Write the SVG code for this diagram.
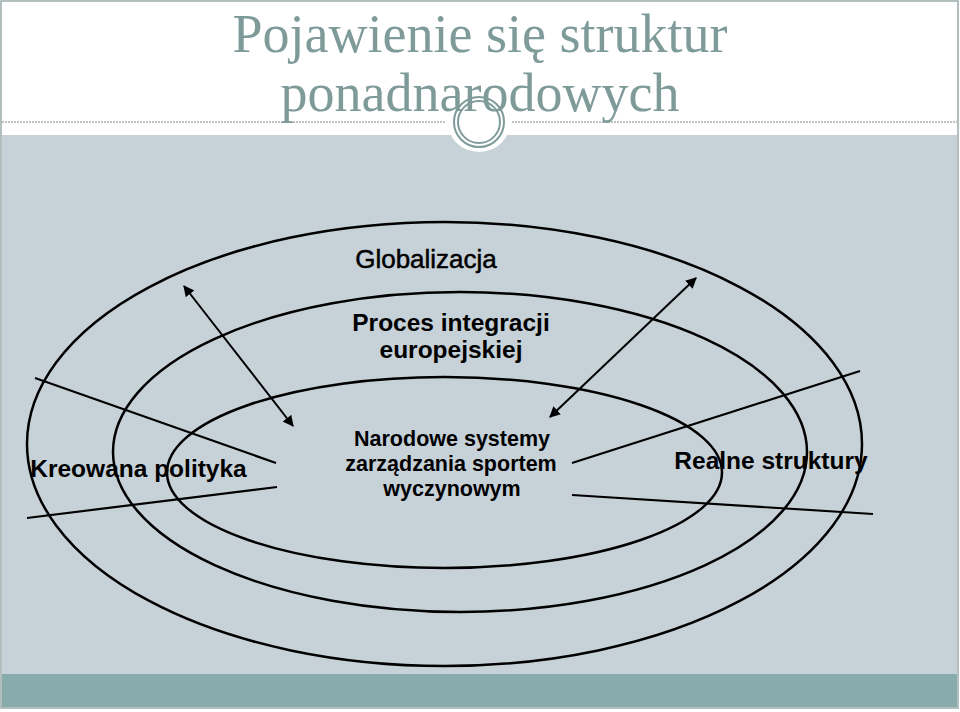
<svg xmlns="http://www.w3.org/2000/svg" width="960" height="712" viewBox="0 0 960 712">
  <style>
    .title { font-family: "Liberation Serif", "Times New Roman", serif; font-size: 54px; fill: #7E9B9A; text-anchor: middle; }
    .ring { fill: none; stroke: #000; stroke-width: 2.5; }
    .ln { stroke: #000; stroke-width: 2.2; fill: none; }
    .arr { stroke: #000; stroke-width: 2; fill: none; marker-start: url(#ah); marker-end: url(#ah); }
    .lbl { font-family: "Liberation Sans", Arial, sans-serif; font-weight: bold; fill: #000; text-anchor: middle; }
  </style>
  <defs>
    <marker id="ah" viewBox="0 0 10 10" refX="9" refY="5" markerWidth="5.5" markerHeight="5.5" orient="auto-start-reverse" markerUnits="strokeWidth">
      <path d="M0,0 L10,5 L0,10 z" fill="#000"/>
    </marker>
  </defs>

  <g id="background">
    <rect x="0" y="0" width="960" height="712" fill="#FFFFFF"/>
    <rect x="2" y="135" width="955" height="539" fill="#C6D1D8"/>
    <rect x="2" y="674" width="955" height="33" fill="#88ACAB"/>
    <rect x="1" y="1" width="957" height="707" fill="none" stroke="#9AAAAA" stroke-width="1.5"/>
    <line x1="2" y1="122" x2="445" y2="122" stroke="#7A8A8A" stroke-width="1" stroke-dasharray="2,1"/>
    <line x1="512" y1="122" x2="957" y2="122" stroke="#7A8A8A" stroke-width="1" stroke-dasharray="2,1"/>
    <circle cx="479" cy="120" r="32" fill="#FFFFFF"/>
    <circle cx="479" cy="122" r="25" fill="none" stroke="#7E9B9A" stroke-width="2"/>
    <circle cx="479" cy="122" r="21" fill="none" stroke="#7E9B9A" stroke-width="2"/>
  </g>

  <g id="title">
    <text class="title" x="480" y="52">Pojawienie się struktur</text>
    <text class="title" x="480" y="111">ponadnarodowych</text>
  </g>

  <g id="globalizacja">
    <ellipse class="ring" cx="444.5" cy="444" rx="417.5" ry="222"/>
    <text x="426" y="268" font-family="'Liberation Sans', Arial, sans-serif" font-size="26" fill="#000" stroke="#000" stroke-width="0.5" text-anchor="middle">Globalizacja</text>
  </g>

  <g id="integracja">
    <ellipse class="ring" cx="460" cy="452" rx="347" ry="160"/>
    <text class="lbl" font-size="24.5" x="451" y="331">Proces integracji</text>
    <text class="lbl" font-size="24.5" x="451" y="358">europejskiej</text>
  </g>

  <g id="narodowe">
    <ellipse class="ring" cx="444.5" cy="472.5" rx="277.5" ry="95.5"/>
    <text class="lbl" font-size="21.5" x="452" y="446">Narodowe systemy</text>
    <text class="lbl" font-size="21.5" x="451" y="471">zarządzania sportem</text>
    <text class="lbl" font-size="21.5" x="452" y="496">wyczynowym</text>
  </g>

  <g id="connectors">
    <line class="ln" x1="35" y1="378" x2="276" y2="463"/>
    <line class="ln" x1="27" y1="518" x2="277" y2="487"/>
    <line class="ln" x1="572" y1="463" x2="860" y2="371"/>
    <line class="ln" x1="572" y1="495" x2="873" y2="514"/>
    <line class="arr" x1="184" y1="286" x2="293" y2="426"/>
    <line class="arr" x1="696" y1="278" x2="550" y2="417"/>
  </g>

  <g id="kreowana">
    <text class="lbl" font-size="24.5" x="138.5" y="477">Kreowana polityka</text>
  </g>

  <g id="realne">
    <text class="lbl" font-size="24.5" x="771" y="469">Realne struktury</text>
  </g>
</svg>
